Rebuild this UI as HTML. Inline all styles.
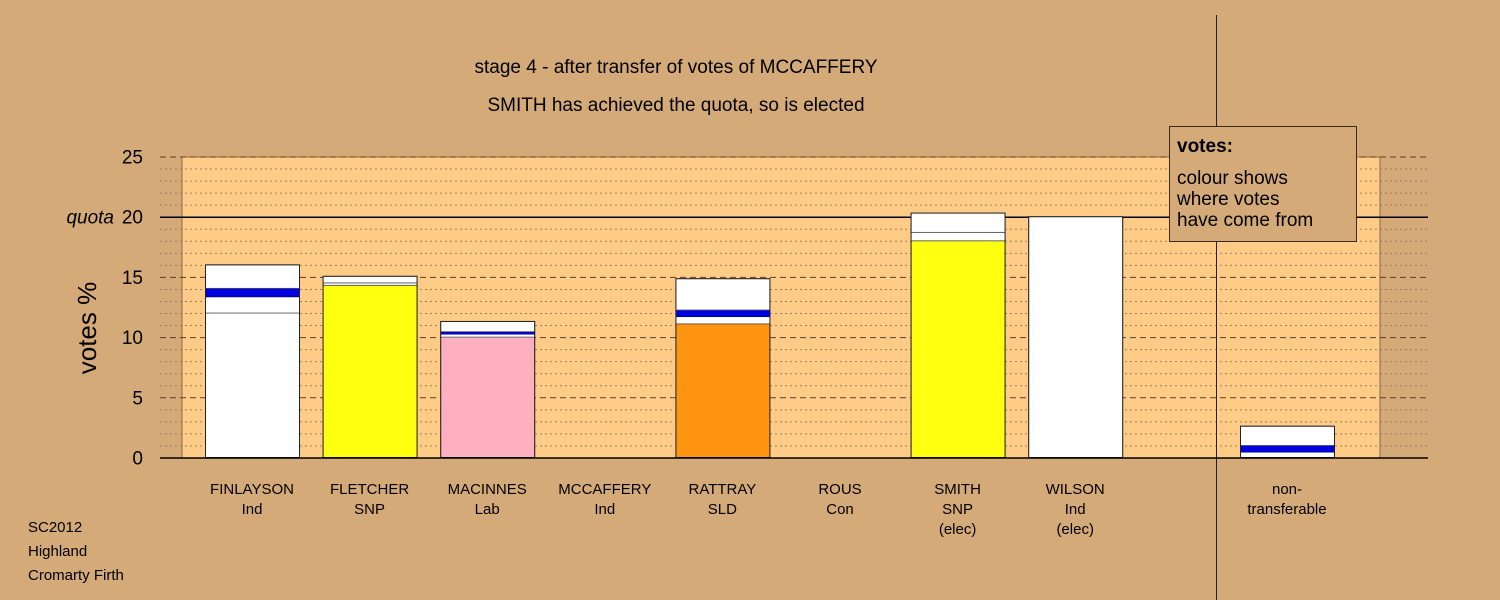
<!DOCTYPE html>
<html><head><meta charset="utf-8">
<style>
html,body{margin:0;padding:0;background:#d4aa78;}
svg{display:block;font-family:"Liberation Sans",sans-serif;}
.lbl{font-family:"Liberation Sans Narrow","Liberation Sans",sans-serif;font-size:15px;fill:#000;}
</style></head>
<body>
<svg id="chart" width="1500" height="600" viewBox="0 0 1500 600" xmlns="http://www.w3.org/2000/svg">
  <rect x="0" y="0" width="1500" height="600" fill="#d4aa78"/>
  <rect x="182" y="157" width="1198" height="301" fill="#ffcc88" stroke="#8a6a48" stroke-width="1"/>
  <g id="grid"></g>
  <g id="bars"></g>
  <line x1="1216.5" y1="15" x2="1216.5" y2="600" stroke="#222" stroke-width="1"/>
  <g id="axis"></g>
  <text transform="translate(96,328) rotate(-90)" text-anchor="middle" font-size="26">votes %</text>
  <text x="676" y="73" text-anchor="middle" font-size="19">stage 4 - after transfer of votes of MCCAFFERY</text>
  <text x="676" y="111" text-anchor="middle" font-size="19">SMITH has achieved the quota, so is elected</text>
  <g>
    <rect x="1169.5" y="126.5" width="187" height="115" fill="#d4aa78" stroke="#3a2a1a" stroke-width="1"/>
    <text x="1177" y="152" font-size="19" font-weight="bold">votes:</text>
    <text x="1177" y="184" font-size="19">colour shows</text>
    <text x="1177" y="205" font-size="19">where votes</text>
    <text x="1177" y="226" font-size="19">have come from</text>
  </g>
  <g id="xlabels"></g>
  <g class="lbl">
    <text x="28" y="532" class="lbl">SC2012</text>
    <text x="28" y="556" class="lbl">Highland</text>
    <text x="28" y="580" class="lbl">Cromarty Firth</text>
  </g>
</svg>
<script>
const categories = ["FINLAYSON","FLETCHER","MACINNES","MCCAFFERY","RATTRAY","ROUS","SMITH","WILSON","non-transferable"];
const subLabels = [["Ind"],["SNP"],["Lab"],["Ind"],["SLD"],["Con"],["SNP","(elec)"],["Ind","(elec)"],["transferable"]];
const seriesOwn = [12.0, 14.3, 10.0, 0, 11.1, 0, 18.0, 20.0, 0.45];
const seriesOwnColor = ["#ffffff","#ffff10","#ffb0c0","#ffffff","#ff9410","#ffffff","#ffff10","#ffffff","#ffffff"];
const seriesMid = [1.35, 0.2, 0.25, 0, 0.6, 0, 0.7, 0, 0];
const seriesBlue = [0.7, 0, 0.2, 0, 0.55, 0, 0, 0, 0.55];
const seriesTop = [1.95, 0.55, 0.85, 0, 2.6, 0, 1.6, 0, 1.6];
const yTicks = [0,5,10,15,20,25];
const quota = 20;

const NS="http://www.w3.org/2000/svg";
function mk(tag, attrs, parent){const e=document.createElementNS(NS,tag);for(const k in attrs)e.setAttribute(k,attrs[k]);parent.appendChild(e);return e;}
const y0=457.5, pxPer=12.04;
function yScale(v){return y0 - v*pxPer;}
function xLeft(i){return i<8 ? 205 + i*117.6 : 1240;}
const barW=94;

const grid=document.getElementById('grid');
for(let v=1; v<25; v++){
  if(v%5===0) continue;
  const l=mk('line',{x1:160,x2:1428,y1:yScale(v)+0.5,y2:yScale(v)+0.5,stroke:'#9a8060','stroke-width':1,'stroke-dasharray':'2,3'},grid);
  
  
}
yTicks.forEach(v=>{
  if(v===0) return;
  const solid = v===quota;
  const l=mk('line',{x1:160,x2:1428,y1:yScale(v)+0.5,y2:yScale(v)+0.5,stroke:solid?'#000':'#5a4028','stroke-width':solid?1.5:1},grid);
  if(!solid) l.setAttribute('stroke-dasharray','6,4');
  
  
});

const bars=document.getElementById('bars');
categories.forEach((c,i)=>{
  const x=xLeft(i)+0.5;
  const segs=[[seriesOwn[i],seriesOwnColor[i]],[seriesMid[i],'#ffffff'],[seriesBlue[i],'#0000e0'],[seriesTop[i],'#ffffff']];
  let base=0;
  const total=segs.reduce((a,s)=>a+s[0],0);
  segs.forEach((s,k)=>{
    if(s[0]<=0) return;
    const r=mk('rect',{x:x,y:yScale(base+s[0]),width:barW,height:s[0]*pxPer,fill:s[1],stroke:k===2?'#000080':'#555','stroke-width':0.8},bars);
    
    
    base+=s[0];
  });
  if(total>0){
    const o=mk('rect',{x:x,y:yScale(total),width:barW,height:total*pxPer,fill:'none',stroke:'#222','stroke-width':1},bars);
    
    
  }
});

const axis=document.getElementById('axis');
const base=mk('line',{x1:160,x2:1428,y1:y0+0.5,y2:y0+0.5,stroke:'#000','stroke-width':1.5},axis);


yTicks.forEach(v=>{
  const t=mk('text',{x:143,y:yScale(v)+7,'text-anchor':'end','font-size':19},axis);
  t.textContent=String(v);
  
  
});
const q=mk('text',{x:114,y:yScale(quota)+7,'text-anchor':'end','font-size':19,'font-style':'italic'},axis);
q.textContent='quota';



const xl=document.getElementById('xlabels');
categories.forEach((c,i)=>{
  const cx=xLeft(i)+barW/2;
  const lines=[i===8?'non-':c].concat(subLabels[i]);
  lines.forEach((s,k)=>{
    const t=mk('text',{x:cx,y:494+k*20,'text-anchor':'middle',class:'lbl','font-size':15},xl);
    t.textContent=s;
    
    
  });
});
</script>
</body></html>
